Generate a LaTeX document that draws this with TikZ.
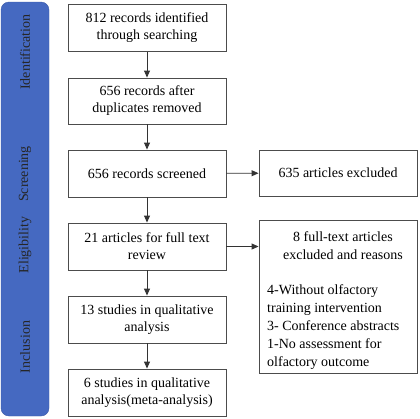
\documentclass[tikz,border=0pt]{standalone}
\usepackage{fontspec}
\setmainfont{Liberation Serif}
\usetikzlibrary{arrows.meta}
\definecolor{stageblue}{HTML}{4569C1}
\definecolor{stageedge}{HTML}{3A5AA8}

\begin{document}
\begin{tikzpicture}[x=1pt, y=-1pt,
  box/.style={draw=black!70, line width=0.9pt, fill=white, minimum width=158pt, minimum height=47pt, inner sep=0pt, align=center, font=\fontsize{14}{17}\selectfont},
  sidebox/.style={box},
  stage/.style={rotate=90, font=\fontsize{14}{17}\selectfont, text=black!85},
  flow/.style={draw=black!80, line width=0.9pt, -{Triangle[length=7pt, width=6pt]}}]
\useasboundingbox (0,0) rectangle (420,418);
\filldraw[fill=stageblue, draw=stageedge, rounded corners=8pt] (1,2) rectangle (49,416);
\node[stage] (ident) at (25,52) {Identification};
\node[stage] (screen) at (25,174) {Screening};
\node[stage] (elig) at (25,245) {Eligibility};
\node[stage] (incl) at (25,347) {Inclusion};
\node[box] (found) at (147,28) {812 records identified\\through searching};
\node[box, minimum height=46pt] (dup) at (147,101) {656 records after\\duplicates removed};
\node[box] (screened) at (147,173.5) {656 records screened};
\node[box] (full) at (147,246.5) {21 articles for full text\\review};
\node[box] (qual) at (147,319.5) {13 studies in qualitative\\analysis};
\node[box] (meta) at (147,392.5) {6 studies in qualitative\\analysis(meta-analysis)};
\node[sidebox, minimum height=46pt] (excl) at (338,173) {635 articles excluded};
\node[sidebox, minimum height=153pt] (reasons) at (338,296.5) {};
\node[align=center, font=\fontsize{14}{18}\selectfont, inner sep=0pt] (rhead) at (343,246) {8 full-text articles\\excluded and reasons};
\node[align=left, anchor=west, font=\fontsize{14}{18}\selectfont, inner sep=0pt] (rlist) at (267,327) {4-Without olfactory\\training intervention\\3- Conference abstracts\\1-No assessment for\\olfactory outcome};
\draw[flow] (found) -- (dup);
\draw[flow] (dup) -- (screened);
\draw[flow] (screened) -- (full);
\draw[flow] (full) -- (qual);
\draw[flow] (qual) -- (meta);
\draw[flow] (screened) -- (excl);
\draw[flow] (full.east) -- (full.east -| reasons.west);
\end{tikzpicture}
\end{document}
